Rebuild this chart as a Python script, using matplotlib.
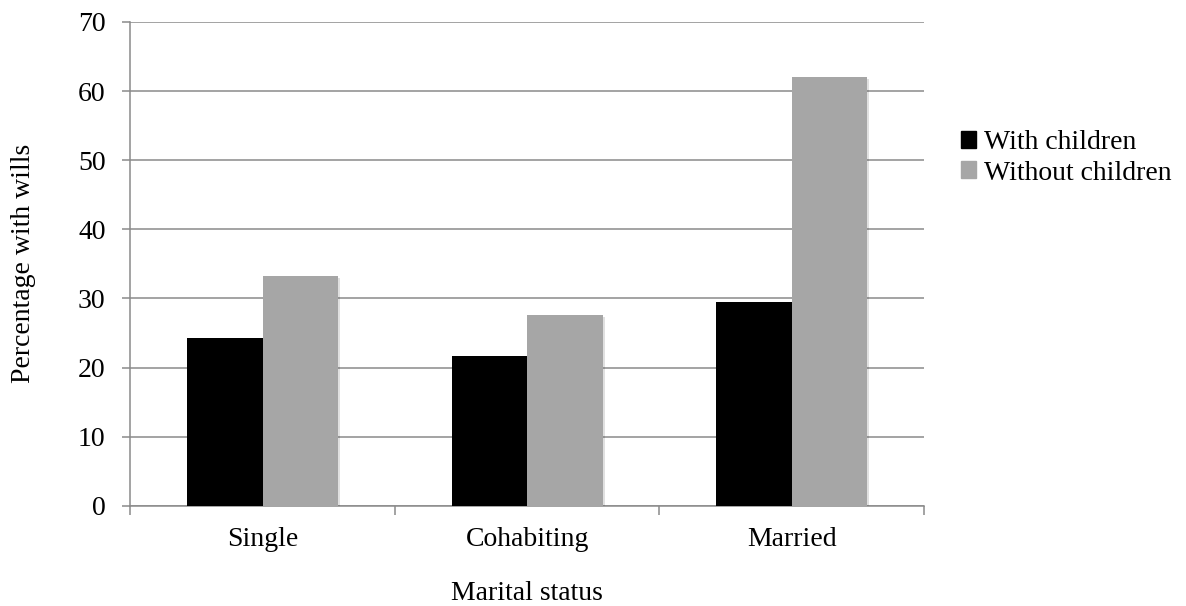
import numpy as np
import matplotlib
matplotlib.use("Agg")
import matplotlib.pyplot as plt
from matplotlib.patches import Patch
import matplotlib.patheffects as pe

categories = ["Single", "Cohabiting", "Married"]
with_children = [24.2, 21.6, 29.5]
without_children = [33.2, 27.6, 62.0]
series_labels = ["With children", "Without children"]
series_colors = ["#000000", "#a6a6a6"]

plt.rcParams["font.family"] = ["Liberation Serif", "DejaVu Serif"]
plt.rcParams["font.size"] = 20

GRID = "#8a8a8a"


def main() -> None:
    fig = plt.figure(figsize=(11.86, 6.06), dpi=100)
    ax = fig.add_axes([0.1099, 0.1655, 0.779 - 0.1099, 0.9637 - 0.1655])

    x = np.arange(len(categories)) + 0.5
    w = 0.285
    shadow = [pe.SimplePatchShadow(offset=(1.5, -1.5), alpha=0.15), pe.Normal()]
    for vals, off, col, lab in zip([with_children, without_children], [-w / 2, w / 2],
                                   series_colors, series_labels):
        bars = ax.bar(x + off, vals, width=w, color=col, label=lab, zorder=3)
        for b in bars:
            b.set_path_effects(shadow)

    ax.set_xlim(0, 3)
    ax.set_ylim(0, 70)
    ax.set_yticks(np.arange(0, 71, 10))
    ax.yaxis.grid(True, color=GRID, linewidth=1.1, zorder=0)
    ax.set_axisbelow(True)

    # category boundaries get the ticks, centres get the labels
    ax.set_xticks([0, 1, 2, 3])
    ax.set_xticklabels([])
    ax.set_xticks(x, minor=True)
    ax.set_xticklabels(categories, minor=True)
    ax.tick_params(axis="x", which="minor", length=0, pad=15)
    ax.tick_params(axis="x", which="major", length=6.5, width=1.1, color=GRID)
    ax.tick_params(axis="y", length=5.8, width=1.1, color=GRID, pad=12)

    for s in ["top", "right"]:
        ax.spines[s].set_visible(False)
    for s in ["left", "bottom"]:
        ax.spines[s].set_color(GRID)
        ax.spines[s].set_linewidth(1.1)

    ax.set_xlabel("Marital status", va="baseline")
    ax.xaxis.set_label_coords(0.5, -0.194)
    ax.set_ylabel("Percentage with wills", va="center")
    ax.yaxis.set_label_coords(-0.1345, 0.5)

    handles = [Patch(color=c, label=l) for c, l in zip(series_colors, series_labels)]
    fig.legend(handles=handles, loc="upper left", bbox_to_anchor=(0.810, 1 - 130 / 606),
               frameon=False, handlelength=0.55, handleheight=0.55, handletextpad=0.3,
               labelspacing=0.2, borderaxespad=0, borderpad=0)

    fig.savefig("out.png", dpi=100)
    plt.close(fig)


if __name__ == "__main__":
    main()
